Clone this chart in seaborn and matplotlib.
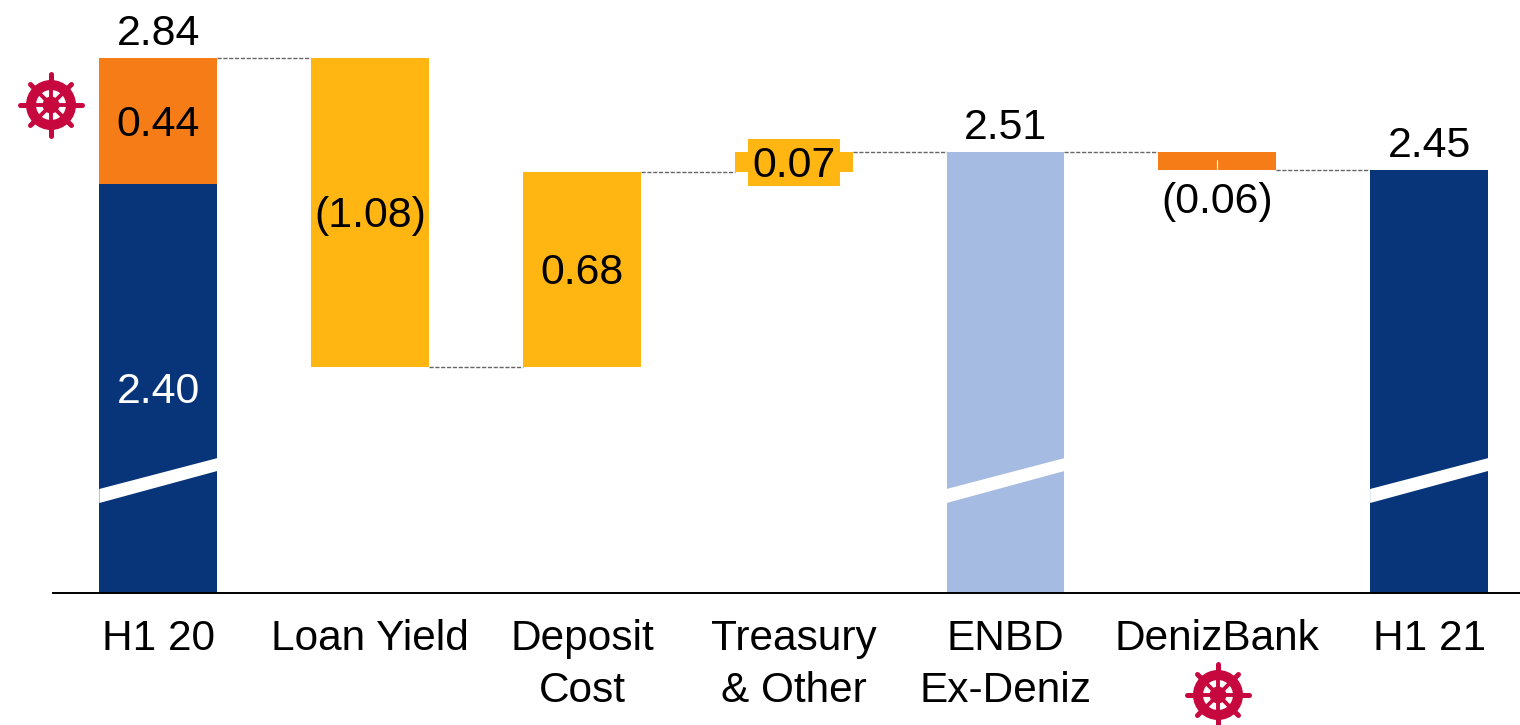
import numpy as np
import pandas as pd
import matplotlib
matplotlib.use("Agg")
import matplotlib.pyplot as plt
from matplotlib.patches import Circle, Rectangle
from matplotlib.lines import Line2D
from matplotlib.transforms import Affine2D
import seaborn as sns

categories = ["H1 20", "Loan Yield", "Deposit\nCost", "Treasury\n& Other",
              "ENBD\nEx-Deniz", "DenizBank", "H1 21"]
seg_category = ["H1 20", "H1 20", "Loan Yield", "Deposit\nCost", "Treasury\n& Other",
                "ENBD\nEx-Deniz", "DenizBank", "H1 21"]
seg_bottom = [0.00, 2.40, 1.76, 1.76, 2.44, 0.00, 2.45, 0.00]
seg_height = [2.40, 0.44, 1.08, 0.68, 0.07, 2.51, 0.06, 2.45]
seg_label = ["2.40", "0.44", "(1.08)", "0.68", "0.07", None, "(0.06)", None]
seg_color = ["#08357A", "#F67C18", "#FFB612", "#FFB612", "#FFB612", "#A6BBE2", "#F67C18", "#08357A"]
totals_cat = ["H1 20", "ENBD\nEx-Deniz", "H1 21"]
totals_val = [2.84, 2.51, 2.45]
connector_levels = [2.84, 1.76, 2.44, 2.51, 2.51, 2.45]

W, H = 1520, 725
FS = 30.9
BAR_W = 0.557
plt.rcParams["font.family"] = ["Liberation Sans", "DejaVu Sans"]
sns.set_style("white")
plt.rcParams["font.family"] = ["Liberation Sans", "DejaVu Sans"]

fig = plt.figure(figsize=(W / 100, H / 100), dpi=100)
ax = fig.add_axes([53 / W, (H - 593) / H, (W - 53) / W, 593 / H])

df = pd.DataFrame({"cat": seg_category, "bottom": seg_bottom, "height": seg_height,
                   "label": seg_label, "color": seg_color})
for _, r in df.iterrows():
    sns.barplot(x=[r["cat"]], y=[r["height"]], order=categories, bottom=r["bottom"],
                color=r["color"], saturation=1, width=BAR_W, errorbar=None, ax=ax,
                linewidth=0, zorder=2)

px_per_cat = 211.8
ax.set_xlim((53 - 158.3) / px_per_cat, (W - 158.3) / px_per_cat)
YMIN, YMAX = 2.84 - 535 / 286, 2.84 + 58 / 286
ax.set_ylim(YMIN, YMAX)

# connectors
for i, lvl in enumerate(connector_levels):
    ax.plot([i + BAR_W / 2, i + 1 - BAR_W / 2], [lvl, lvl], color="#666666", lw=1.0,
            ls=(0, (3, 1.2)), zorder=1)

# labels
pos = {c: i for i, c in enumerate(categories)}
for _, r in df.iterrows():
    if r["label"] is None:
        continue
    x = pos[r["cat"]]
    top = r["bottom"] + r["height"]
    mid = (top + r["bottom"]) / 2
    if r["label"] == "2.40":
        ax.annotate(r["label"], (x, (top + YMIN) / 2), xytext=(0, 1), textcoords="offset points",
                    color="white", ha="center", va="center_baseline", fontsize=FS, zorder=5)
    elif r["label"] == "(0.06)":
        ax.annotate(r["label"], (x, r["bottom"]), xytext=(0, -20), textcoords="offset points",
                    ha="center", va="center_baseline", fontsize=FS, color="black", zorder=5)
    else:
        if r["label"] == "0.07":
            # backing panel behind the label, same colour as the bar
            cx, cy = ax.transData.transform((x, mid))
            ax.add_patch(Rectangle((-46, -24), 92, 47, fc=r["color"], ec="none", zorder=3,
                                   transform=Affine2D().translate(cx, cy)))
        ax.annotate(r["label"], (x, mid), xytext=(0, 0.6), textcoords="offset points",
                    ha="center", va="center_baseline", fontsize=FS, color="black", zorder=5)
for c, v in zip(totals_cat, totals_val):
    ax.annotate(f"{v:.2f}", (pos[c], v), xytext=(0, 20.5), textcoords="offset points",
                ha="center", va="center_baseline", fontsize=FS, color="black", zorder=5)

# axis-break slashes on the truncated total bars
for c in totals_cat:
    x = pos[c]
    xs = [x - BAR_W / 2, x + BAR_W / 2, x + BAR_W / 2, x - BAR_W / 2]
    ys = [1.333, 1.441, 1.396, 1.284]
    ax.fill(xs, ys, color="white", lw=0, zorder=3)

# small white tick in the DenizBank bar
ax.plot([pos["DenizBank"]] * 2, [2.45, 2.485], color="white", lw=0.8, zorder=3)

ax.set_xlabel("")
ax.set_ylabel("")
ax.set_yticks([])
ax.set_xticks(range(len(categories)))
ax.set_xticklabels(categories, fontsize=30.5, color="black", linespacing=1.4)
ax.tick_params(axis="x", length=0, pad=18.7)
for s in ["top", "left", "right"]:
    ax.spines[s].set_visible(False)
ax.spines["bottom"].set_linewidth(1.4)
ax.spines["bottom"].set_color("black")
ax.patch.set_alpha(0)


def wheel(cx, cy):
    color = "#C6083F"
    tr = Affine2D().translate(cx, H - cy).scale(1 / W, 1 / H) + fig.transFigure
    fig.add_artist(Circle((0, 0), 20, fc="none", ec=color, lw=7.2, transform=tr))
    fig.add_artist(Circle((0, 0), 8.5, fc=color, ec="none", transform=tr))
    for a in np.deg2rad(np.arange(0, 360, 45)):
        c, s = np.cos(a), np.sin(a)
        fig.add_artist(Line2D([0, 20 * c], [0, 20 * s], color=color, lw=2.8, transform=tr))
        handle = 31 if a % (np.pi / 2) < 1e-6 else 29
        fig.add_artist(Line2D([20 * c, handle * c], [20 * s, handle * s], color=color, lw=3.6,
                              solid_capstyle="round", transform=tr))


wheel(51, 105)
wheel(1218, 695)

fig.savefig("out.png", dpi=100, facecolor="white")
